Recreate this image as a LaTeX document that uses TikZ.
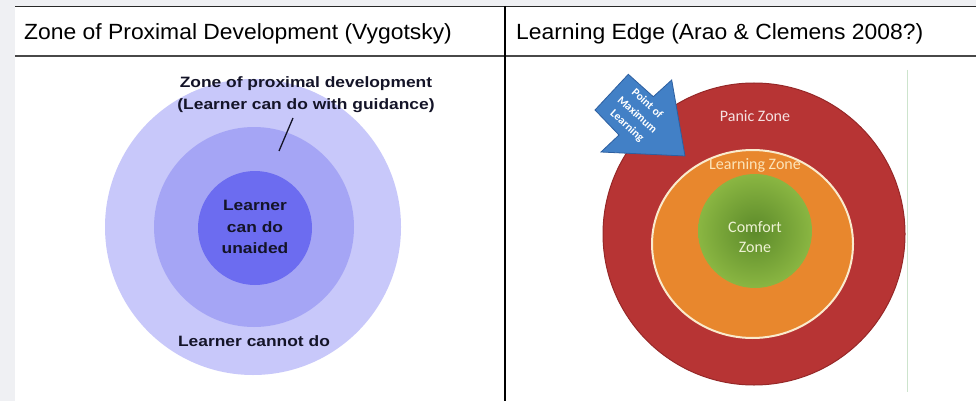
\documentclass[tikz,border=0pt]{standalone}
\usepackage{fontspec}
\usepackage{graphicx}
\setmainfont{Liberation Sans}
\newfontfamily\calib{Carlito}
\usetikzlibrary{calc}

\definecolor{pagegray}{RGB}{239,240,243}
\definecolor{rulegray}{RGB}{40,40,40}
\definecolor{zpdouter}{RGB}{200,200,250}
\definecolor{zpdmid}{RGB}{165,165,245}
\definecolor{zpdinner}{RGB}{108,108,240}
\definecolor{zpdtext}{RGB}{20,20,40}
\definecolor{panicred}{RGB}{183,52,52}
\definecolor{panicedge}{RGB}{150,40,40}
\definecolor{learnorange}{RGB}{232,135,45}
\definecolor{learnrim}{RGB}{250,235,205}
\definecolor{comfortin}{RGB}{92,138,42}
\definecolor{comfortout}{RGB}{138,182,66}
\definecolor{arrowblue}{RGB}{66,128,198}
\definecolor{arrowedge}{RGB}{45,95,160}
\definecolor{paniclabel}{RGB}{245,225,225}
\definecolor{learnlabel}{RGB}{252,228,185}
\definecolor{comfortlabel}{RGB}{238,242,212}
\definecolor{framegreen}{RGB}{205,228,205}

\tikzset{
  header/.style={anchor=base west, inner sep=0pt, text=black,
    font=\fontsize{22}{26}\selectfont},
  zpdlabel/.style={inner sep=0pt, text=zpdtext, align=center,
    font=\bfseries\fontsize{15}{21.5}\selectfont},
  zonelabel/.style={inner sep=0pt, align=center,
    font=\calib\fontsize{16}{20.5}\selectfont},
  arrowlabel/.style={inner sep=0pt, align=center, text=white, rotate=-42,
    font=\calib\bfseries\fontsize{11.5}{15}\selectfont},
}

\begin{document}
\begin{tikzpicture}[x=1pt, y=-1pt]
  \useasboundingbox (0,0) rectangle (976,401);
  % page and table body
  \fill[pagegray] (0,0) rectangle (976,401);
  \fill[white] (15,6) rectangle (976,401);
  \draw[rulegray, line width=1.4pt] (15,6.5) -- (976,6.5);
  \draw[rulegray!85, line width=2pt] (15,56.5) -- (976,56.5);
  \draw[black, line width=1.2pt] (505,6) -- (505,401);

  % column headers
  \node[header] (hleft) at (24,40) {\scalebox{1.04}[1]{Zone of Proximal Development (Vygotsky)}};
  \node[header] (hright) at (516,40) {\scalebox{1.04}[1]{Learning Edge (Arao \& Clemens 2008?)}};

  % ---- Vygotsky: nested zones ----
  \fill[zpdouter] (253,227) circle[radius=148pt];
  \fill[zpdmid] (254,227) circle[radius=100pt];
  \fill[zpdinner] (255,228) circle[radius=57pt];

  \node[zpdlabel] (zpd) at (306,94.5) {\scalebox{1.16}[1]{Zone of proximal development}\\
    \scalebox{1.16}[1]{(Learner can do with guidance)}};
  \coordinate (ptrtop) at (293,118);
  \coordinate (ptrbot) at (279,151);
  \draw[zpdtext, line width=1.3pt] (ptrtop) -- (ptrbot);

  \node[zpdlabel] (unaided) at (255,227) {\scalebox{1.16}[1]{Learner}\\
    \scalebox{1.16}[1]{can do}\\ \scalebox{1.16}[1]{unaided}};
  \node[zpdlabel] (cannot) at (254,341) {\scalebox{1.16}[1]{Learner cannot do}};

  % ---- Learning edge: comfort / learning / panic ----
  \draw[framegreen, line width=0.8pt] (907,70) -- (907,392);
  \fill[panicred, draw=panicedge, line width=1pt] (754,234) circle[radius=151pt];
  \fill[learnorange, draw=learnrim, line width=2pt]
    (752.5,244) ellipse[x radius=100.5pt, y radius=94pt];
  \shade[inner color=comfortin, outer color=comfortout] (755,231) circle[radius=57pt];

  \node[zonelabel, text=paniclabel] (panic) at (755,116) {Panic Zone};
  \node[zonelabel, text=learnlabel] (learning) at (755,165) {Learning Zone};
  \node[zonelabel, text=comfortlabel] (comfort) at (755,237) {Comfort\\Zone};

  % block arrow pointing at the learning edge
  \filldraw[fill=arrowblue, draw=arrowedge, line width=0.8pt, line join=miter]
    (595,110) -- (628.3,74.3) -- (653.3,96.7) -- (671.7,80) -- (685,156)
    -- (601,152) -- (619,135) -- cycle;
  \node[arrowlabel] (maxlearn) at (637,115) {Point of\\Maximum\\Learning};
\end{tikzpicture}
\end{document}
